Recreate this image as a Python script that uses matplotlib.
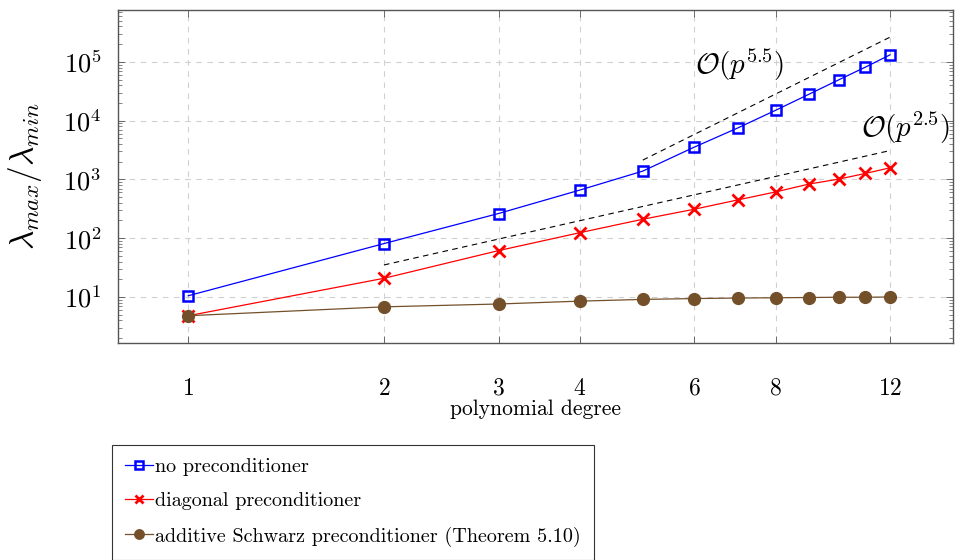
import numpy as np
import matplotlib
matplotlib.use("Agg")
import matplotlib.pyplot as plt
from matplotlib.ticker import FixedLocator, NullFormatter, LogLocator

plt.rcParams['font.family'] = 'serif'
plt.rcParams['font.serif'] = ['cmr10', 'DejaVu Serif']
plt.rcParams['mathtext.fontset'] = 'cm'
plt.rcParams['axes.formatter.use_mathtext'] = True

# data
p = [1, 2, 3, 4, 5, 6, 7, 8, 9, 10, 11, 12]
no_prec = [10.5, 81, 263, 658, 1385, 3540, 7510, 14960, 28000, 49200, 81300, 131500]
diag_prec = [4.8, 20.8, 61.5, 124, 210, 311, 448, 612, 832, 1010, 1265, 1573]
schwarz_prec = [4.8, 6.8, 7.6, 8.5, 9.1, 9.4, 9.6, 9.7, 9.8, 9.9, 9.9, 10.0]

# reference slopes
p_ref55 = np.array([5, 12])
ref55 = 0.305 * p_ref55**5.5
p_ref25 = np.array([2, 12])
ref25 = 6.2 * p_ref25**2.5

xticks = [1, 2, 3, 4, 6, 8, 12]

fig = plt.figure(figsize=(9.55, 5.6), dpi=100)
ax = fig.add_axes([0.1236, 0.3875, 0.8744, 0.5946])

brown = '#74502a'
ax.plot(p, no_prec, color='blue', lw=0.9, marker='s', ms=7.5, mfc='none', mec='blue', mew=1.8,
        label='no preconditioner', zorder=3)
ax.plot(p, diag_prec, color='red', lw=0.9, marker='x', ms=8, mew=2.0,
        label='diagonal preconditioner', zorder=3)
ax.plot(p, schwarz_prec, color=brown, lw=0.9, marker='o', ms=8.5, mfc=brown, mec=brown,
        label='additive Schwarz preconditioner (Theorem 5.10)', zorder=3)

ax.plot(p_ref55, ref55, 'k--', lw=0.8, dashes=(5, 4), zorder=2)
ax.plot(p_ref25, ref25, 'k--', lw=0.8, dashes=(5, 4), zorder=2)

ax.text(7.04, 8.8e4, r'$\mathcal{O}(p^{5.5})$', fontsize=21, ha='center', va='center')
ax.text(12.66, 7.5e3, r'$\mathcal{O}(p^{2.5})$', fontsize=21, ha='center', va='center')

ax.set_xscale('log')
ax.set_yscale('log')
ax.set_xlim(0.78, 15.0)
ax.set_ylim(1.65, 7.6e5)

ax.xaxis.set_major_locator(FixedLocator(xticks))
ax.set_xticklabels([f'${t}$' for t in xticks])
ax.xaxis.set_minor_locator(FixedLocator([]))
ax.xaxis.set_minor_formatter(NullFormatter())
ax.yaxis.set_major_locator(FixedLocator([1e1, 1e2, 1e3, 1e4, 1e5]))
ax.yaxis.set_minor_locator(LogLocator(base=10, subs=np.arange(2, 10), numticks=20))
ax.yaxis.set_minor_formatter(NullFormatter())

ax.tick_params(which='both', direction='in', top=True, right=True)
ax.tick_params(axis='y', labelsize=19, pad=12)
ax.tick_params(axis='x', labelsize=17, pad=25)
ax.tick_params(which='major', length=5, width=0.6, color='#555555')
ax.tick_params(which='minor', length=3, width=0.5, color='#555555')

ax.grid(True, which='major', ls=(0, (5, 5)), color='#d0d0d0', lw=0.8)
for s in ax.spines.values():
    s.set_color('#555555')
    s.set_linewidth(1.0)

ax.set_xlabel('polynomial degree', fontsize=15.5, labelpad=0)
ax.set_ylabel(r'$\lambda_{max}/\lambda_{min}$', fontsize=24, labelpad=14)

leg = fig.legend(loc='upper left', bbox_to_anchor=(0.117, 0.2054), fontsize=14.5,
                 frameon=True, fancybox=False, edgecolor='black', handlelength=1.4,
                 handletextpad=0.12, borderaxespad=0, borderpad=0.65, labelspacing=0.8,
                 markerscale=0.8)
leg.get_frame().set_linewidth(0.8)

fig.savefig('out.png', dpi=100)
